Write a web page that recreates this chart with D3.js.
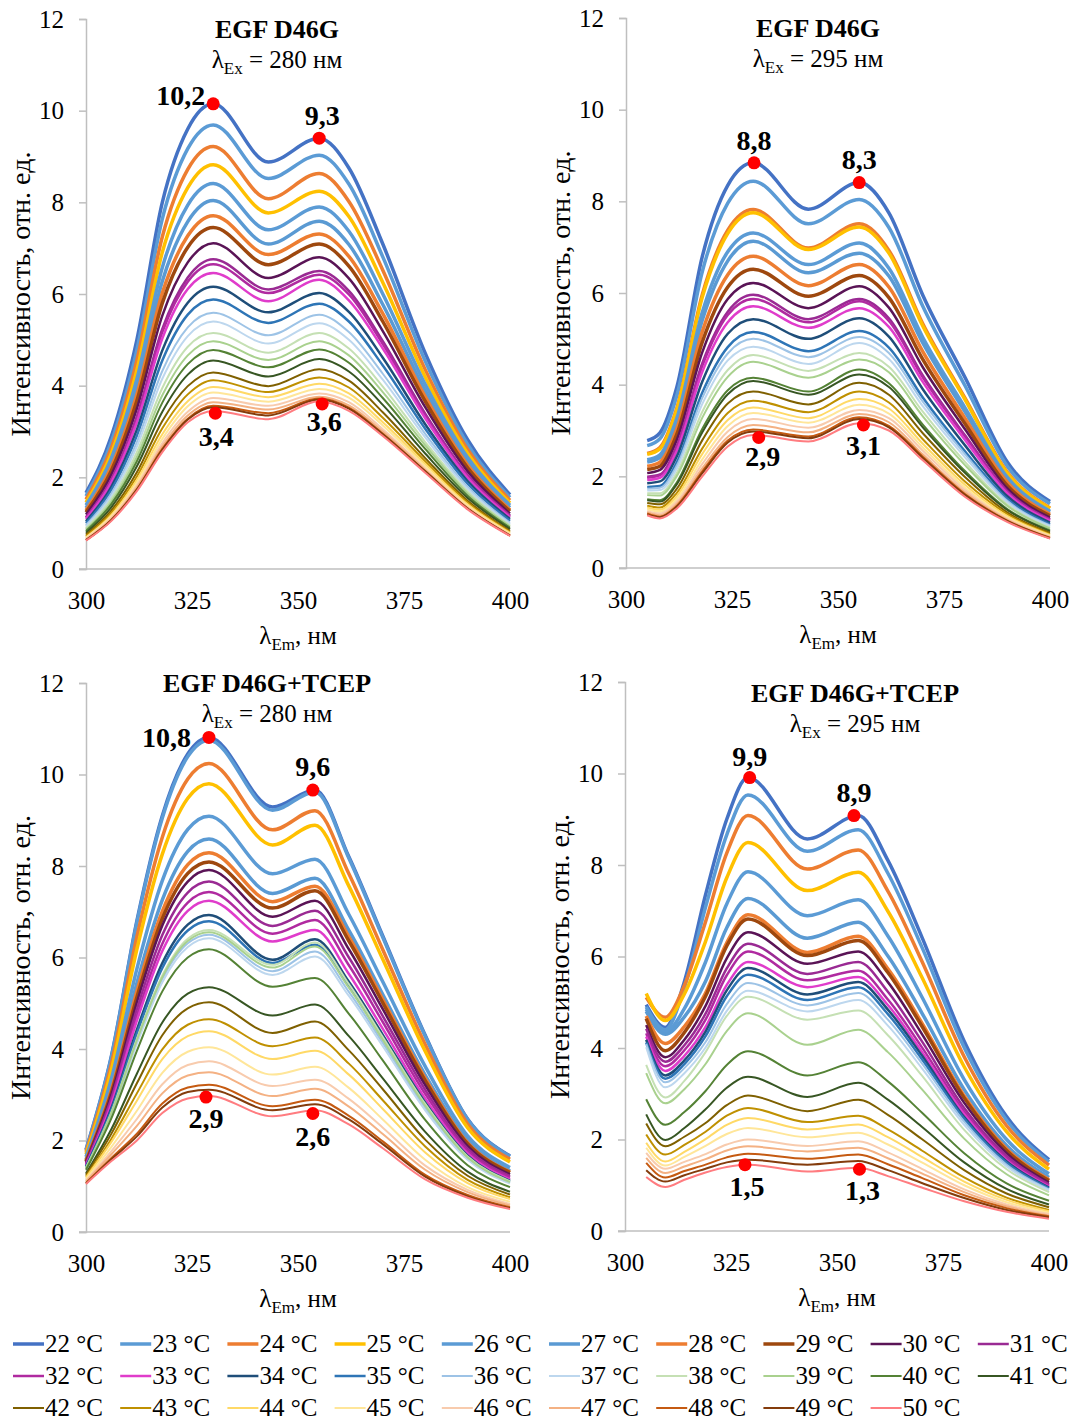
<!DOCTYPE html>
<html>
<head>
<meta charset="utf-8">
<script src="https://cdn.jsdelivr.net/npm/d3@7"></script>
<style>
  body { margin: 0; background: #fff; }
  text { font-family: "Liberation Serif", "Times New Roman", serif; fill: #000; }
</style>
</head>
<body>
<div id="chart"></div>
<script>
// temperatures (legend categories)
const temps = [22, 23, 24, 25, 26, 27, 28, 29, 30, 31, 32, 33, 34, 35, 36, 37, 38, 39, 40, 41, 42, 43, 44, 45, 46, 47, 48, 49, 50];
const colors = ['#4472C4', '#5B9BD5', '#ED7D31', '#FFC000', '#5B9BD5', '#5A9AD3', '#ED7D31', '#9E480E', '#5A1456', '#9A2A93',
  '#B02AA0', '#E03CCB', '#1F4E79', '#2E75B6', '#9DC3E6', '#BDD7EE', '#C5E0B4', '#A9D18E', '#548235', '#375623',
  '#7F6000', '#BF9000', '#FFD966', '#FFE699', '#F8CBAD', '#F4B183', '#C55A11', '#843C0C', '#FF7C80'];

const yTicks = [0, 2, 4, 6, 8, 10, 12];
const xTicks = [300, 325, 350, 375, 400];

// EGF D46G, λex = 280 nm
const wl280 = [300, 306, 312, 318, 324, 330, 343, 355, 362, 370, 380, 390, 400];
const int280 = [
  [1.66, 2.90, 5.00, 8.00, 9.60, 10.15, 8.88, 9.40, 8.75, 7.09, 4.71, 2.82, 1.62],
  [1.59, 2.78, 4.78, 7.64, 9.17, 9.69, 8.52, 9.03, 8.40, 6.81, 4.54, 2.72, 1.56],
  [1.52, 2.65, 4.55, 7.25, 8.72, 9.22, 8.08, 8.63, 8.02, 6.52, 4.35, 2.61, 1.50],
  [1.45, 2.53, 4.34, 6.91, 8.32, 8.82, 7.77, 8.24, 7.69, 6.25, 4.19, 2.52, 1.44],
  [1.39, 2.42, 4.14, 6.58, 7.94, 8.41, 7.40, 7.90, 7.37, 6.00, 4.03, 2.43, 1.39],
  [1.33, 2.32, 3.96, 6.28, 7.58, 8.04, 7.09, 7.59, 7.08, 5.77, 3.89, 2.34, 1.34],
  [1.28, 2.23, 3.80, 6.02, 7.27, 7.71, 6.86, 7.31, 6.82, 5.57, 3.76, 2.27, 1.29],
  [1.24, 2.15, 3.67, 5.80, 7.02, 7.45, 6.64, 7.09, 6.61, 5.40, 3.66, 2.21, 1.26],
  [1.19, 2.06, 3.50, 5.53, 6.69, 7.11, 6.35, 6.80, 6.34, 5.19, 3.53, 2.13, 1.21],
  [1.13, 1.96, 3.33, 5.24, 6.36, 6.76, 6.10, 6.50, 6.07, 4.97, 3.39, 2.05, 1.17],
  [1.12, 1.94, 3.28, 5.17, 6.27, 6.65, 6.02, 6.42, 5.99, 4.91, 3.35, 2.03, 1.15],
  [1.09, 1.89, 3.20, 5.03, 6.11, 6.46, 5.84, 6.31, 5.86, 4.81, 3.29, 1.99, 1.13],
  [1.04, 1.80, 3.04, 4.77, 5.81, 6.16, 5.60, 6.02, 5.61, 4.61, 3.16, 1.92, 1.09],
  [1.00, 1.73, 2.91, 4.55, 5.55, 5.88, 5.37, 5.79, 5.40, 4.44, 3.06, 1.86, 1.05],
  [0.96, 1.65, 2.77, 4.32, 5.27, 5.59, 5.10, 5.55, 5.17, 4.26, 2.95, 1.79, 1.01],
  [0.93, 1.59, 2.67, 4.15, 5.08, 5.40, 4.92, 5.36, 5.00, 4.13, 2.87, 1.75, 0.98],
  [0.89, 1.53, 2.55, 3.95, 4.85, 5.15, 4.72, 5.15, 4.81, 3.98, 2.77, 1.69, 0.95],
  [0.86, 1.47, 2.45, 3.79, 4.66, 4.97, 4.56, 4.97, 4.66, 3.86, 2.70, 1.65, 0.93],
  [0.83, 1.42, 2.35, 3.63, 4.47, 4.78, 4.40, 4.79, 4.50, 3.73, 2.62, 1.60, 0.90],
  [0.79, 1.35, 2.24, 3.43, 4.24, 4.55, 4.20, 4.58, 4.31, 3.58, 2.52, 1.55, 0.87],
  [0.75, 1.28, 2.11, 3.23, 3.99, 4.29, 3.99, 4.36, 4.11, 3.42, 2.42, 1.49, 0.83],
  [0.72, 1.23, 2.02, 3.07, 3.81, 4.12, 3.86, 4.18, 3.96, 3.30, 2.35, 1.45, 0.81],
  [0.69, 1.18, 1.94, 2.94, 3.66, 3.97, 3.75, 4.04, 3.83, 3.20, 2.29, 1.41, 0.79],
  [0.68, 1.15, 1.88, 2.84, 3.55, 3.85, 3.65, 3.93, 3.74, 3.13, 2.24, 1.38, 0.77],
  [0.66, 1.12, 1.82, 2.75, 3.43, 3.73, 3.56, 3.83, 3.64, 3.05, 2.19, 1.35, 0.75],
  [0.64, 1.09, 1.78, 2.68, 3.35, 3.64, 3.48, 3.76, 3.57, 3.00, 2.16, 1.33, 0.74],
  [0.63, 1.07, 1.74, 2.62, 3.28, 3.56, 3.40, 3.72, 3.52, 2.95, 2.13, 1.32, 0.73],
  [0.63, 1.07, 1.73, 2.60, 3.26, 3.53, 3.35, 3.70, 3.50, 2.94, 2.13, 1.32, 0.73],
  [0.62, 1.05, 1.70, 2.55, 3.20, 3.45, 3.27, 3.66, 3.45, 2.90, 2.10, 1.30, 0.72]
];
const dotWl280 = [330, 355, 330.5, 355.7];
const dotVal280 = [10.15, 9.40, 3.40, 3.60];
const dotLab280 = ['10,2', '9,3', '3,4', '3,6'];

// EGF D46G, λex = 295 nm
const wl295 = [305, 308, 312, 318, 324, 330, 343, 355, 362, 370, 380, 390, 400];
const int295 = [
  [2.78, 2.95, 3.95, 6.80, 8.35, 8.84, 7.83, 8.41, 7.75, 5.95, 4.15, 2.30, 1.45],
  [2.67, 2.82, 3.77, 6.47, 7.96, 8.44, 7.51, 8.04, 7.43, 5.71, 3.97, 2.21, 1.40],
  [2.50, 2.63, 3.49, 5.97, 7.37, 7.82, 6.98, 7.51, 6.93, 5.33, 3.70, 2.08, 1.31],
  [2.48, 2.60, 3.46, 5.91, 7.30, 7.75, 6.95, 7.44, 6.87, 5.28, 3.67, 2.06, 1.30],
  [2.36, 2.47, 3.27, 5.58, 6.90, 7.31, 6.62, 7.09, 6.54, 5.03, 3.49, 1.97, 1.24],
  [2.31, 2.41, 3.18, 5.41, 6.70, 7.13, 6.44, 6.87, 6.37, 4.91, 3.40, 1.92, 1.22],
  [2.22, 2.31, 3.04, 5.16, 6.40, 6.80, 6.16, 6.62, 6.13, 4.72, 3.26, 1.86, 1.17],
  [2.15, 2.22, 2.92, 4.93, 6.13, 6.52, 5.93, 6.38, 5.90, 4.55, 3.14, 1.79, 1.14],
  [2.07, 2.14, 2.80, 4.71, 5.87, 6.22, 5.67, 6.15, 5.68, 4.38, 3.02, 1.73, 1.10],
  [1.99, 2.04, 2.67, 4.47, 5.59, 5.96, 5.43, 5.87, 5.45, 4.20, 2.89, 1.67, 1.06],
  [1.97, 2.02, 2.63, 4.41, 5.52, 5.87, 5.36, 5.82, 5.39, 4.16, 2.86, 1.65, 1.05],
  [1.92, 1.97, 2.56, 4.28, 5.36, 5.71, 5.24, 5.67, 5.26, 4.06, 2.79, 1.62, 1.03],
  [1.85, 1.89, 2.44, 4.07, 5.11, 5.43, 5.00, 5.45, 5.05, 3.90, 2.67, 1.56, 0.99],
  [1.77, 1.79, 2.31, 3.83, 4.82, 5.15, 4.73, 5.17, 4.81, 3.72, 2.54, 1.50, 0.95],
  [1.73, 1.75, 2.24, 3.71, 4.68, 5.00, 4.60, 5.04, 4.69, 3.63, 2.48, 1.46, 0.93],
  [1.69, 1.70, 2.17, 3.58, 4.53, 4.83, 4.45, 4.91, 4.56, 3.53, 2.41, 1.43, 0.91],
  [1.63, 1.63, 2.08, 3.41, 4.32, 4.65, 4.30, 4.69, 4.39, 3.41, 2.31, 1.38, 0.88],
  [1.59, 1.58, 2.01, 3.28, 4.17, 4.50, 4.15, 4.55, 4.27, 3.31, 2.24, 1.35, 0.86],
  [1.50, 1.48, 1.87, 3.04, 3.88, 4.15, 3.85, 4.33, 4.03, 3.13, 2.11, 1.28, 0.82],
  [1.48, 1.45, 1.83, 2.96, 3.79, 4.08, 3.78, 4.22, 3.95, 3.07, 2.07, 1.26, 0.80],
  [1.42, 1.39, 1.73, 2.79, 3.59, 3.85, 3.57, 4.04, 3.78, 2.94, 1.98, 1.21, 0.77],
  [1.36, 1.32, 1.64, 2.61, 3.38, 3.65, 3.40, 3.85, 3.61, 2.81, 1.88, 1.17, 0.74],
  [1.32, 1.27, 1.57, 2.49, 3.23, 3.50, 3.27, 3.69, 3.48, 2.71, 1.81, 1.13, 0.72],
  [1.28, 1.23, 1.51, 2.37, 3.10, 3.38, 3.17, 3.56, 3.37, 2.63, 1.75, 1.10, 0.70],
  [1.24, 1.19, 1.45, 2.27, 2.98, 3.25, 3.06, 3.45, 3.27, 2.56, 1.70, 1.07, 0.69],
  [1.21, 1.15, 1.40, 2.18, 2.86, 3.12, 2.96, 3.36, 3.18, 2.48, 1.65, 1.05, 0.67],
  [1.19, 1.12, 1.36, 2.11, 2.78, 3.02, 2.87, 3.29, 3.10, 2.43, 1.61, 1.03, 0.66],
  [1.17, 1.11, 1.34, 2.07, 2.74, 2.98, 2.83, 3.25, 3.07, 2.40, 1.59, 1.02, 0.65],
  [1.15, 1.08, 1.30, 2.00, 2.65, 2.90, 2.76, 3.16, 3.00, 2.35, 1.55, 1.00, 0.64]
];
const dotWl295 = [330.2, 355, 331.3, 356];
const dotVal295 = [8.84, 8.41, 2.85, 3.12];
const dotLab295 = ['8,8', '8,3', '2,9', '3,1'];

// EGF D46G+TCEP, λex = 280 nm
const wlT280 = [300, 306, 312, 318, 324, 329, 344, 354, 362, 370, 380, 390, 400];
const intT280 = [
  [1.80, 3.85, 6.80, 9.10, 10.45, 10.81, 9.29, 9.66, 8.20, 6.47, 4.30, 2.47, 1.66],
  [1.79, 3.83, 6.76, 9.05, 10.39, 10.75, 9.22, 9.62, 8.17, 6.44, 4.28, 2.46, 1.65],
  [1.75, 3.68, 6.45, 8.63, 9.90, 10.24, 8.79, 9.21, 7.83, 6.17, 4.10, 2.36, 1.59],
  [1.70, 3.55, 6.18, 8.26, 9.48, 9.80, 8.46, 8.89, 7.56, 5.96, 3.95, 2.28, 1.53],
  [1.64, 3.35, 5.75, 7.68, 8.80, 9.09, 7.83, 8.15, 6.94, 5.47, 3.62, 2.10, 1.41],
  [1.59, 3.20, 5.44, 7.26, 8.32, 8.59, 7.40, 7.73, 6.59, 5.19, 3.43, 2.00, 1.34],
  [1.56, 3.11, 5.26, 7.01, 8.03, 8.29, 7.22, 7.56, 6.45, 5.08, 3.36, 1.95, 1.31],
  [1.54, 3.05, 5.13, 6.85, 7.84, 8.09, 7.08, 7.46, 6.36, 5.01, 3.31, 1.93, 1.30],
  [1.52, 3.00, 5.02, 6.70, 7.66, 7.91, 6.89, 7.24, 6.18, 4.87, 3.21, 1.88, 1.26],
  [1.50, 2.93, 4.87, 6.49, 7.42, 7.66, 6.69, 7.02, 6.00, 4.72, 3.11, 1.82, 1.22],
  [1.48, 2.86, 4.73, 6.30, 7.20, 7.43, 6.52, 6.82, 5.83, 4.59, 3.02, 1.77, 1.19],
  [1.46, 2.80, 4.62, 6.14, 7.02, 7.24, 6.35, 6.60, 5.64, 4.44, 2.92, 1.72, 1.15],
  [1.43, 2.71, 4.42, 5.88, 6.72, 6.93, 5.95, 6.40, 5.47, 4.31, 2.83, 1.67, 1.12],
  [1.42, 2.67, 4.34, 5.77, 6.59, 6.79, 5.88, 6.28, 5.37, 4.23, 2.78, 1.64, 1.10],
  [1.39, 2.59, 4.16, 5.53, 6.31, 6.50, 5.70, 6.13, 5.25, 4.13, 2.71, 1.60, 1.08],
  [1.38, 2.56, 4.11, 5.46, 6.23, 6.42, 5.62, 6.02, 5.16, 4.06, 2.66, 1.58, 1.06],
  [1.40, 2.62, 4.22, 5.61, 6.41, 6.60, 5.84, 6.33, 5.42, 4.26, 2.80, 1.65, 1.11],
  [1.40, 2.60, 4.19, 5.57, 6.36, 6.55, 5.78, 6.24, 5.34, 4.20, 2.76, 1.63, 1.09],
  [1.36, 2.49, 3.96, 5.26, 6.00, 6.18, 5.36, 5.55, 4.77, 3.75, 2.45, 1.46, 0.98],
  [1.28, 2.25, 3.46, 4.58, 5.21, 5.35, 4.73, 4.97, 4.28, 3.36, 2.19, 1.32, 0.88],
  [1.25, 2.15, 3.25, 4.30, 4.89, 5.02, 4.35, 4.60, 3.97, 3.12, 2.02, 1.23, 0.82],
  [1.21, 2.04, 3.03, 3.99, 4.53, 4.65, 4.06, 4.25, 3.68, 2.88, 1.87, 1.14, 0.76],
  [1.19, 1.97, 2.87, 3.78, 4.28, 4.39, 3.78, 3.96, 3.44, 2.69, 1.74, 1.07, 0.72],
  [1.15, 1.86, 2.65, 3.48, 3.94, 4.04, 3.44, 3.61, 3.15, 2.46, 1.58, 0.98, 0.66],
  [1.12, 1.77, 2.47, 3.23, 3.65, 3.73, 3.19, 3.33, 2.91, 2.28, 1.45, 0.92, 0.61],
  [1.10, 1.70, 2.32, 3.03, 3.42, 3.49, 2.97, 3.13, 2.74, 2.14, 1.36, 0.87, 0.58],
  [1.07, 1.62, 2.15, 2.81, 3.16, 3.22, 2.75, 2.89, 2.54, 1.98, 1.25, 0.81, 0.54],
  [1.06, 1.59, 2.09, 2.72, 3.06, 3.11, 2.66, 2.79, 2.46, 1.92, 1.21, 0.78, 0.52],
  [1.05, 1.55, 2.00, 2.60, 2.92, 2.97, 2.53, 2.66, 2.35, 1.83, 1.15, 0.75, 0.50]
];
const dotWlT280 = [329, 353.5, 328.3, 353.5];
const dotValT280 = [10.81, 9.66, 2.95, 2.59];
const dotLabT280 = ['10,8', '9,6', '2,9', '2,6'];

// EGF D46G+TCEP, λex = 295 nm
const wlT295 = [305, 309.5, 314, 319, 324, 329, 343, 355, 362, 370, 380, 390, 400];
const intT295 = [
  [4.95, 4.45, 5.45, 7.35, 9.00, 9.91, 8.57, 9.08, 8.10, 6.43, 4.15, 2.50, 1.56],
  [4.90, 4.40, 5.32, 7.08, 8.66, 9.53, 8.30, 8.77, 7.82, 6.21, 4.01, 2.42, 1.51],
  [5.11, 4.67, 5.37, 6.76, 8.26, 9.08, 7.91, 8.33, 7.43, 5.90, 3.81, 2.30, 1.44],
  [5.19, 4.60, 5.18, 6.33, 7.72, 8.49, 7.44, 7.84, 6.99, 5.55, 3.59, 2.17, 1.35],
  [4.85, 4.35, 4.86, 5.88, 7.15, 7.85, 6.89, 7.24, 6.45, 5.12, 3.31, 2.00, 1.25],
  [4.80, 4.30, 4.68, 5.46, 6.63, 7.27, 6.40, 6.75, 6.01, 4.77, 3.09, 1.87, 1.17],
  [4.70, 4.10, 4.47, 5.20, 6.30, 6.91, 6.09, 6.44, 5.73, 4.55, 2.95, 1.79, 1.12],
  [4.64, 3.94, 4.34, 5.13, 6.23, 6.82, 6.02, 6.35, 5.65, 4.48, 2.91, 1.76, 1.10],
  [4.50, 3.80, 4.18, 4.92, 5.96, 6.53, 5.84, 6.11, 5.44, 4.31, 2.80, 1.70, 1.06],
  [4.42, 3.70, 4.06, 4.75, 5.74, 6.28, 5.62, 5.88, 5.23, 4.15, 2.69, 1.64, 1.02],
  [4.32, 3.60, 3.95, 4.62, 5.59, 6.11, 5.48, 5.69, 5.06, 4.02, 2.61, 1.59, 0.99],
  [4.25, 3.50, 3.83, 4.46, 5.38, 5.88, 5.33, 5.55, 4.94, 3.92, 2.55, 1.55, 0.97],
  [4.18, 3.40, 3.73, 4.36, 5.26, 5.75, 5.17, 5.44, 4.84, 3.84, 2.49, 1.52, 0.95],
  [4.12, 3.33, 3.65, 4.26, 5.13, 5.60, 5.05, 5.33, 4.74, 3.76, 2.45, 1.49, 0.93],
  [4.09, 3.25, 3.56, 4.13, 4.96, 5.42, 4.93, 5.20, 4.62, 3.67, 2.39, 1.45, 0.91],
  [4.02, 3.14, 3.45, 4.01, 4.81, 5.25, 4.80, 5.05, 4.49, 3.56, 2.32, 1.41, 0.89],
  [3.63, 2.92, 3.28, 3.91, 4.70, 5.12, 4.62, 4.82, 4.28, 3.40, 2.21, 1.35, 0.85],
  [3.45, 2.79, 3.10, 3.65, 4.37, 4.76, 4.07, 4.40, 3.91, 3.10, 2.02, 1.24, 0.78],
  [2.88, 2.32, 2.60, 3.06, 3.63, 3.93, 3.40, 3.69, 3.27, 2.59, 1.70, 1.04, 0.66],
  [2.55, 1.99, 2.25, 2.66, 3.13, 3.37, 2.93, 3.24, 2.87, 2.28, 1.50, 0.92, 0.58],
  [2.35, 1.85, 2.06, 2.36, 2.75, 2.96, 2.62, 2.87, 2.54, 2.01, 1.33, 0.82, 0.52],
  [2.11, 1.67, 1.88, 2.17, 2.52, 2.69, 2.38, 2.52, 2.22, 1.76, 1.17, 0.73, 0.46],
  [1.93, 1.52, 1.73, 2.01, 2.32, 2.47, 2.22, 2.33, 2.05, 1.62, 1.08, 0.68, 0.43],
  [1.82, 1.43, 1.62, 1.86, 2.12, 2.25, 2.05, 2.15, 1.89, 1.50, 1.00, 0.63, 0.40],
  [1.71, 1.36, 1.51, 1.68, 1.89, 2.00, 1.86, 1.96, 1.72, 1.36, 0.91, 0.58, 0.37],
  [1.60, 1.27, 1.41, 1.57, 1.76, 1.85, 1.74, 1.82, 1.59, 1.26, 0.85, 0.54, 0.34],
  [1.49, 1.17, 1.31, 1.45, 1.61, 1.69, 1.58, 1.67, 1.46, 1.16, 0.78, 0.50, 0.32],
  [1.33, 1.08, 1.22, 1.36, 1.50, 1.56, 1.45, 1.53, 1.33, 1.05, 0.72, 0.46, 0.30],
  [1.18, 0.96, 1.12, 1.28, 1.40, 1.45, 1.30, 1.38, 1.20, 0.95, 0.65, 0.42, 0.27]
];
const dotWlT295 = [329.4, 354, 328.3, 355.3];
const dotValT295 = [9.91, 9.08, 1.45, 1.35];
const dotLabT295 = ['9,9', '8,9', '1,5', '1,3'];

const width = 1075;
const height = 1421;

const svg = d3.select('#chart')
  .append('svg')
  .attr('width', width)
  .attr('height', height);

// panel layout: label offsets are [dx, dy, anchor]
const panels = [
  { title: 'EGF D46G', ex: '280', wl: wl280, rows: int280, dw: dotWl280, dv: dotVal280, dl: dotLab280,
    left: 86, right: 510, top: 19, bottom: 569, tx: 277, ty: 38,
    lab: [[-8, 1, 'end'], [3, -13, 'middle'], [1, 33, 'middle'], [2, 27, 'middle']] },
  { title: 'EGF D46G', ex: '295', wl: wl295, rows: int295, dw: dotWl295, dv: dotVal295, dl: dotLab295,
    left: 626, right: 1050, top: 18, bottom: 568, tx: 818, ty: 37,
    lab: [[0, -13, 'middle'], [0, -14, 'middle'], [4, 29, 'middle'], [0, 30, 'middle']] },
  { title: 'EGF D46G+TCEP', ex: '280', wl: wlT280, rows: intT280, dw: dotWlT280, dv: dotValT280, dl: dotLabT280,
    left: 86, right: 510, top: 683, bottom: 1232, tx: 267, ty: 692,
    lab: [[-18, 10, 'end'], [0, -14, 'middle'], [0, 31, 'middle'], [0, 32, 'middle']] },
  { title: 'EGF D46G+TCEP', ex: '295', wl: wlT295, rows: intT295, dw: dotWlT295, dv: dotValT295, dl: dotLabT295,
    left: 625, right: 1049, top: 682, bottom: 1231, tx: 855, ty: 702,
    lab: [[0, -12, 'middle'], [0, -14, 'middle'], [2, 31, 'middle'], [3, 31, 'middle']] }
];

function lineWidth(i) {
  if (i < 8) return 3.5;
  if (i < 14) return 2.5;
  return 2;
}

panels.forEach(p => {
  const g = svg.append('g');

  const x = d3.scaleLinear().domain([300, 400]).range([p.left, p.right]);
  const y = d3.scaleLinear().domain([0, 12]).range([p.bottom, p.top]);

  // y axis
  const ya = g.append('g')
    .attr('transform', `translate(${p.left},0)`)
    .call(d3.axisLeft(y).tickValues(yTicks).tickSize(7).tickPadding(15));
  ya.select('.domain').attr('stroke', '#bfbfbf').attr('stroke-width', 1.5);
  ya.selectAll('.tick line').attr('stroke', '#bfbfbf').attr('stroke-width', 1.5);
  ya.selectAll('.tick text')
    .attr('font-size', 25)
    .attr('fill', '#000')
    .attr('dy', '0.32em');

  // x axis
  const xa = g.append('g')
    .attr('transform', `translate(0,${p.bottom})`)
    .call(d3.axisBottom(x).tickValues(xTicks).tickSize(0).tickPadding(22));
  xa.select('.domain').attr('stroke', '#bfbfbf').attr('stroke-width', 1.5)
    .attr('d', `M${p.left - 7},0H${p.right}`);
  xa.selectAll('.tick text')
    .attr('font-size', 25)
    .attr('fill', '#000');

  // curves
  const line = d3.line()
    .x(d => x(d[0]))
    .y(d => y(d[1]))
    .curve(d3.curveMonotoneX);

  g.append('g')
    .attr('fill', 'none')
    .selectAll('path')
    .data(p.rows)
    .join('path')
    .attr('stroke', (d, i) => colors[i])
    .attr('stroke-width', (d, i) => lineWidth(i))
    .attr('stroke-linejoin', 'round')
    .attr('d', row => line(row.map((v, j) => [p.wl[j], v])));

  // red markers and labels
  p.dw.forEach((w, k) => {
    const cx = x(w), cy = y(p.dv[k]);
    g.append('circle').attr('cx', cx).attr('cy', cy).attr('r', 6.5).attr('fill', '#ff0000');
    const o = p.lab[k];
    g.append('text')
      .attr('x', cx + o[0])
      .attr('y', cy + o[1])
      .attr('text-anchor', o[2])
      .attr('font-size', 28)
      .attr('font-weight', 'bold')
      .text(p.dl[k]);
  });

  // titles
  g.append('text')
    .attr('x', p.tx).attr('y', p.ty)
    .attr('text-anchor', 'middle')
    .attr('font-size', 26)
    .attr('font-weight', 'bold')
    .text(p.title);

  const sub = g.append('text')
    .attr('x', p.tx).attr('y', p.ty + 30)
    .attr('text-anchor', 'middle')
    .attr('font-size', 25);
  sub.append('tspan').text('λ');
  sub.append('tspan').attr('font-size', 17).attr('dy', 6).text('Ex');
  sub.append('tspan').attr('dy', -6).text(` = ${p.ex} нм`);

  // axis titles
  const xt = g.append('text')
    .attr('x', (p.left + p.right) / 2)
    .attr('y', p.bottom + 75)
    .attr('text-anchor', 'middle')
    .attr('font-size', 25);
  xt.append('tspan').text('λ');
  xt.append('tspan').attr('font-size', 17).attr('dy', 6).text('Em');
  xt.append('tspan').attr('dy', -6).text(', нм');

  g.append('text')
    .attr('transform', `translate(${p.left - 56},${(p.top + p.bottom) / 2}) rotate(-90)`)
    .attr('text-anchor', 'middle')
    .attr('font-size', 28)
    .text('Интенсивность, отн. ед.');
});

// legend
const legend = svg.append('g');
temps.forEach((t, i) => {
  const col = i % 10, row = Math.floor(i / 10);
  const lx = 13 + col * 107.2;
  const ly = 1344 + row * 32;
  legend.append('line')
    .attr('x1', lx).attr('x2', lx + 31)
    .attr('y1', ly).attr('y2', ly)
    .attr('stroke', colors[i])
    .attr('stroke-width', lineWidth(i));
  legend.append('text')
    .attr('x', lx + 32)
    .attr('y', ly + 8)
    .attr('font-size', 25)
    .text(`${t} °C`);
});
</script>
</body>
</html>
